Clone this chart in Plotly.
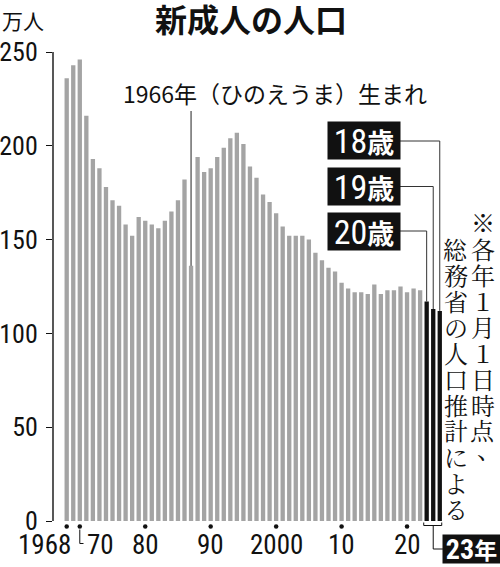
import plotly.graph_objects as go

# ---------------- data ----------------
gray_years = list(range(1968, 2023))
gray_values = [236, 243, 246, 216, 193, 188, 178, 171, 168, 158,
               152, 162, 160, 158, 156, 160, 165, 171, 182, 136,
               194, 186, 188, 194, 199, 204, 207, 201, 189, 183,
               174, 170, 164, 157, 152, 152, 152, 150, 143, 139,
               135, 133, 127, 124, 122, 122, 121, 126, 121, 123,
               123, 125, 122, 124, 123]
age_labels = ["20歳", "19歳", "18歳"]
age_values = [117, 113, 112]
age_slots = [2023, 2024, 2025]          # slot positions of the 2023 bars
tick_years = [1968, 1970, 1980, 1990, 2000, 2010, 2020]
tick_labels = ["1968", "70", "80", "90", "2000", "10", "20"]
y_ticks = [0, 50, 100, 150, 200, 250]
title_text = "新成人の人口"
unit_text = "万人"
note_col1 = "※各年１月１日時点、"
note_col2 = "総務省の人口推計による"
hinoe_text = "1966年（ひのえうま）生まれ"
hinoe_year = 1987
last_label = "23年"

# ---------------- layout helpers ----------------
W, H = 500, 567
ML, MR, MT, MB = 53, 41, 52, 0
PW, PH = W - ML - MR, H - MT - MB
PX0, PITCH = 66.7, 6.545       # pixel of first slot, pixels per slot
PY0, PYSCALE = 521.0, 469.0 / 250.0

def sx(px):
    return 1968 + (px - PX0) / PITCH

def vy(py):
    return (PY0 - py) / PYSCALE

def ppx(px):
    return (px - ML) / PW

def ppy(py):
    return (H - MB - py) / PH

COND = "Roboto Condensed, DejaVu Sans Condensed, sans-serif"
CJK = "Noto Sans CJK JP, Noto Sans, sans-serif"
SERIF = "Noto Serif CJK JP, serif"
MIX = "Roboto Condensed, Noto Sans CJK JP, sans-serif"
INK = "#111111"

fig = go.Figure()
fig.add_trace(go.Bar(x=gray_years, y=gray_values, width=0.66,
                     marker=dict(color="#a4a4a4", line=dict(width=0)),
                     hoverinfo="skip"))
fig.add_trace(go.Bar(x=age_slots, y=age_values, width=0.66,
                     marker=dict(color=INK, line=dict(width=0)),
                     hoverinfo="skip"))
# tick dots
fig.add_trace(go.Scatter(x=tick_years, y=[vy(526.5)] * len(tick_years), mode="markers",
                         marker=dict(color=INK, size=4.5), cliponaxis=False,
                         hoverinfo="skip"))

shapes = []
# y axis line
shapes.append(dict(type="line", xref="paper", yref="y", x0=0, x1=0, y0=0, y1=250,
                   line=dict(color=INK, width=1.4)))
# 1966 leader
hv = gray_values[gray_years.index(hinoe_year)]
shapes.append(dict(type="line", xref="x", yref="y", x0=hinoe_year, x1=hinoe_year,
                   y0=vy(111), y1=hv, line=dict(color="#222222", width=1)))
# age leaders
box_cy = {"18歳": 141, "19歳": 186.5, "20歳": 231}
for lab, val, slot in zip(age_labels, age_values, age_slots):
    yy = vy(box_cy[lab])
    shapes.append(dict(type="path", xref="x", yref="y",
                       path=f"M {sx(400)},{yy} L {slot},{yy} L {slot},{val}",
                       line=dict(color="#333333", width=1)))
# "70" connector
shapes.append(dict(type="path", xref="x", yref="y",
                   path=f"M 1970,{vy(529.5)} L 1970,{vy(543.5)} L {sx(83.5)},{vy(543.5)}",
                   line=dict(color=INK, width=1)))
# bracket under 2023 bars
bl, br, bc = age_slots[0] - 0.45, age_slots[-1] + 0.3, age_slots[1]
shapes.append(dict(type="path", xref="x", yref="y",
                   path=(f"M {bl},{vy(522.5)} L {bl},{vy(525.5)} L {br},{vy(525.5)} L {br},{vy(522.5)} "
                         f"M {bc},{vy(525.5)} L {bc},{vy(549)} L {sx(443.5)},{vy(549)}"),
                   line=dict(color=INK, width=1)))

ann = []

def note(text, px, py, size, family, xanchor="center", **kw):
    d = dict(text=text, x=ppx(px), y=ppy(py), xref="paper", yref="paper",
             xanchor=xanchor, yanchor="middle", showarrow=False,
             font=dict(family=family, size=size, color=kw.pop("color", INK)))
    d.update(kw)
    ann.append(d)

note(f"<b>{title_text}</b>", 251, 18, 32, CJK)
note(unit_text, 0, 20, 21, CJK, xanchor="left")
note(hinoe_text, 275, 93, 23, CJK)
# x tick labels
for yr, lab in zip(tick_years, tick_labels):
    if lab == "1968":
        note(lab, 73, 545, 27, COND, xanchor="right")
    elif lab == "70":
        note(lab, 85, 545, 27, COND, xanchor="left")
    else:
        note(lab, PX0 + (yr - 1968) * PITCH, 545, 27, COND)
# age boxes
for lab in age_labels:
    num, kanji = lab[:-1], lab[-1]
    note(f"{num}<span style='font-size:27px'><b>{kanji}</b></span>", 363.7, box_cy[lab], 34, MIX,
         color="#ffffff", bgcolor=INK, width=70, height=35, borderpad=1)
# 23年 box
note(f"<b>{last_label[:-1]}<span style='font-size:23px'>{last_label[-1]}</span></b>",
     471.5, 549, 28, MIX, color="#ffffff", bgcolor=INK, width=55, height=26, borderpad=1)
# vertical note (written top-to-bottom, right column first)
for i, ch in enumerate(note_col1):
    dx, dy = (6, -8) if ch == "、" else (0, 0)
    note(ch, 482.7 + dx, 222 + 26 * i + dy, 24, SERIF)
for i, ch in enumerate(note_col2):
    note(ch, 455.5, 248 + 26 * i, 24, SERIF)

fig.update_layout(
    width=W, height=H, margin=dict(l=ML, r=MR, t=MT, b=MB, autoexpand=False),
    paper_bgcolor="white", plot_bgcolor="white", showlegend=False,
    barmode="overlay",
    xaxis=dict(range=[sx(ML), sx(W - MR)], visible=False, fixedrange=True, automargin=False),
    yaxis=dict(range=[vy(H - MB), vy(MT)], tickvals=y_ticks, ticks="outside", ticklen=6,
               tickwidth=1.4, tickcolor=INK, showgrid=False, zeroline=False,
               showline=False, ticklabelstandoff=3, automargin=False,
               tickfont=dict(family=COND, size=26, color=INK), fixedrange=True),
    shapes=shapes, annotations=ann,
)
fig.write_html("out.html", config={"displayModeBar": False},
               post_script="document.body.style.margin='0';document.body.style.overflow='hidden';")
